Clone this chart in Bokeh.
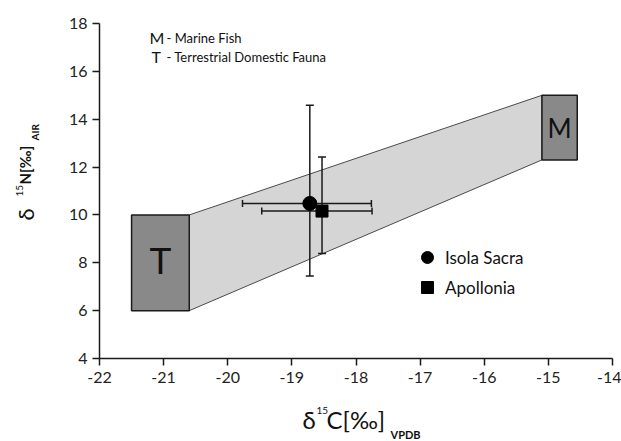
import math
from bokeh.plotting import figure
from bokeh.layouts import row, column
from bokeh.models import (ColumnDataSource, Label, Legend, LegendItem,
                          FixedTicker, Range1d)
from bokeh.embed import file_html
from bokeh.resources import INLINE
from bokeh.core.properties import value

# ---- data ----
sites = ["Isola Sacra", "Apollonia"]
site_markers = ["circle", "square"]
c_mean = [-18.72, -18.53]
n_mean = [10.48, 10.16]
c_lo = [-19.77, -19.47]
c_hi = [-17.76, -17.75]
n_lo = [7.45, 8.39]
n_hi = [14.58, 12.42]

end_members = ["T", "M"]
em_desc = ["Terrestrial Domestic Fauna", "Marine Fish"]
em_c_lo = [-21.5, -15.1]
em_c_hi = [-20.6, -14.55]
em_n_lo = [6.0, 12.3]
em_n_hi = [10.0, 15.0]

x_ticks = [-22, -21, -20, -19, -18, -17, -16, -15, -14]
y_ticks = [4, 6, 8, 10, 12, 14, 16, 18]

FONT = "Lato"
INK = "#1a1a1a"
TXT = "#111111"

# ---- main plot ----
p = figure(width=571, height=405, output_backend="svg", toolbar_location=None,
           x_range=Range1d(-22, -14), y_range=Range1d(4, 18),
           min_border_left=49, min_border_right=9, min_border_top=23,
           min_border_bottom=47)
p.grid.visible = False
p.outline_line_color = None
p.background_fill_color = "white"
p.border_fill_color = "white"

for ax, ticks in ((p.xaxis, x_ticks), (p.yaxis, y_ticks)):
    ax.ticker = FixedTicker(ticks=ticks)
    ax.major_label_overrides = {t: str(t) for t in ticks}
    ax.minor_tick_line_color = None
    ax.axis_line_width = 1.5
    ax.axis_line_color = INK
    ax.major_tick_line_width = 1.5
    ax.major_tick_line_color = INK
    ax.major_tick_out = 7
    ax.major_tick_in = 0
    ax.major_label_text_font = FONT
    ax.major_label_text_font_size = "16px"
    ax.major_label_text_color = "#222222"
p.xaxis.major_label_standoff = 6
p.yaxis.major_label_standoff = 5

# mixing band between the end members
band_x = [em_c_hi[0], em_c_lo[1], em_c_lo[1], em_c_hi[0]]
band_y = [em_n_hi[0], em_n_hi[1], em_n_lo[1], em_n_lo[0]]
p.patch(band_x, band_y, fill_color="#d5d5d5", line_color="#4a4a4a", line_width=1)

# end-member boxes
p.quad(left=em_c_lo, right=em_c_hi, bottom=em_n_lo, top=em_n_hi,
       fill_color="#898989", line_color=INK, line_width=1.5)
em_cx = [(a + b) / 2 for a, b in zip(em_c_lo, em_c_hi)]
em_cy = [(a + b) / 2 for a, b in zip(em_n_lo, em_n_hi)]
p.text(x=[em_cx[0]], y=[em_cy[0]], text=[end_members[0]], text_font=value(FONT),
       text_font_size="37px", text_align="center", text_baseline="middle",
       text_color=TXT, y_offset=-3)
p.text(x=[em_cx[1]], y=[em_cy[1]], text=[end_members[1]], text_font=value(FONT),
       text_font_size="26px", text_align="center", text_baseline="middle",
       text_color=TXT)

# error bars (bars + caps)
err = ColumnDataSource(dict(c=c_mean, n=n_mean, c_lo=c_lo, c_hi=c_hi,
                            n_lo=n_lo, n_hi=n_hi))
p.segment(x0="c", y0="n_lo", x1="c", y1="n_hi", source=err,
          line_color=INK, line_width=1.5)
p.segment(x0="c_lo", y0="n", x1="c_hi", y1="n", source=err,
          line_color=INK, line_width=1.5)
for yf in ("n_lo", "n_hi"):
    p.scatter(x="c", y=yf, source=err, marker="dash", size=8,
              line_color=INK, line_width=1.5)
for xf in ("c_lo", "c_hi"):
    p.scatter(x=xf, y="n", source=err, marker="dash", size=7, angle=math.pi / 2,
              line_color=INK, line_width=1.5)

# site means
marker_sizes = [14, 12]
renderers = []
for i, s in enumerate(sites):
    src = ColumnDataSource(dict(c=[c_mean[i]], n=[n_mean[i]]))
    r = p.scatter("c", "n", source=src, marker=site_markers[i], size=marker_sizes[i],
                  fill_color="black", line_color="black")
    renderers.append(r)

legend = Legend(items=[LegendItem(label=s, renderers=[r]) for s, r in zip(sites, renderers)],
                location=(313, 56), padding=0, margin=0, spacing=-5,
                glyph_width=30, glyph_height=30, label_standoff=3,
                label_text_font=FONT, label_text_font_size="17px",
                label_text_color=TXT,
                border_line_alpha=0, background_fill_alpha=0)
p.add_layout(legend)


def lab(fig, text, x, y, size, angle=0.0, bold=False):
    fig.add_layout(Label(x=x, y=y, x_units="screen", y_units="screen", text=text,
                         text_font=FONT, text_font_size=size, angle=angle,
                         text_font_style="bold" if bold else "normal",
                         text_color=TXT, text_baseline="alphabetic",
                         text_align="left"))


# key (top-left)
lab(p, end_members[1], 50, 321, "16px")
lab(p, "- " + em_desc[1], 67, 321, "13px")
lab(p, end_members[0], 52, 302, "16px")
lab(p, "- " + em_desc[0], 67, 302, "13px")


def strip(w, h):
    f = figure(width=w, height=h, output_backend="svg", toolbar_location=None,
               x_range=Range1d(0, 1), y_range=Range1d(0, 1),
               x_axis_type=None, y_axis_type=None, min_border=0)
    f.grid.visible = False
    f.outline_line_color = None
    f.background_fill_color = "white"
    f.border_fill_color = "white"
    return f


# x-axis title strip: δ15C[‰]VPDB (its frame is aligned with the main frame, left edge at x=99)
xt = strip(571, 36)
lab(xt, "δ", 203, 22, "24px")
lab(xt, "15", 217, 31, "10px")
lab(xt, "C[‰]", 227, 22, "24px")
lab(xt, "VPDB", 291, 7, "11px", bold=True)

# y-axis title strip: δ15N[‰]AIR (rotated)
yt = strip(50, 441)
A = math.pi / 2
lab(yt, "δ", 25, 221, "22px", angle=A)
lab(yt, "15", 19, 245, "10px", angle=A)
lab(yt, "N[‰]", 24, 257, "15px", angle=A, bold=True)
lab(yt, "AIR", 34, 301, "10px", angle=A, bold=True)

layout = row(yt, column(p, xt, spacing=0), spacing=0)

open("out.html", "w").write(file_html(layout, INLINE))
